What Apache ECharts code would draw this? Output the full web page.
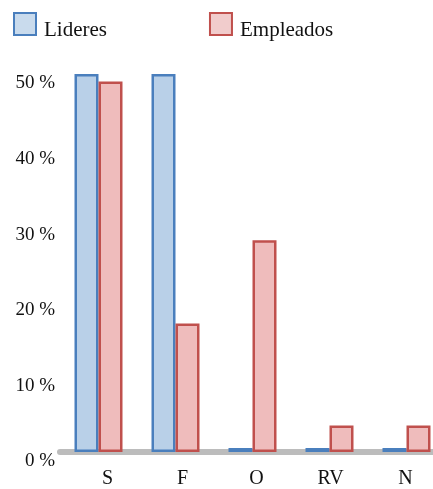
<!DOCTYPE html>
<html>
<head>
<meta charset="utf-8">
<script src="https://cdn.jsdelivr.net/npm/echarts@6/dist/echarts.min.js"></script>
<style>
html,body{margin:0;padding:0;background:#fff;overflow:hidden;}
#wrap{width:433px;height:489px;overflow:hidden;}
#chart{width:445px;height:489px;}
</style>
</head>
<body>
<div id="wrap"><div id="chart"></div></div>
<script>
const categories = ['S', 'F', 'O', 'RV', 'N'];
const lideres = [50, 50, 0, 0, 0];
const empleados = [49, 17, 28, 3.5, 3.5];
const yTicks = { min: 0, max: 50, interval: 10 };

const chart = echarts.init(document.getElementById('chart'), null, { renderer: 'canvas' });
const serif = '"Liberation Serif", "DejaVu Serif", serif';
const labelShift = [18, 14, 8, 2, -2];
const rich = {};
labelShift.forEach((p, i) => {
  rich['c' + i] = { fontFamily: serif, fontSize: 20, color: '#111', padding: p >= 0 ? [0, 0, 0, p] : [0, -p, 0, 0] };
});
chart.setOption({
  animation: false,
  backgroundColor: '#ffffff',
  legend: {
    left: 13, top: 12, padding: 0,
    itemWidth: 22, itemHeight: 22, itemGap: 102,
    icon: 'rect',
    formatter: '{t|{name}}',
    textStyle: {
      fontFamily: serif, fontSize: 21, color: '#111',
      rich: { t: { fontFamily: serif, fontSize: 21, color: '#111', padding: [12, 0, 0, 3] } }
    },
    data: [
      { name: 'Lideres', itemStyle: { color: '#c9dbed', borderColor: '#4a7fbd', borderWidth: 2 } },
      { name: 'Empleados', itemStyle: { color: '#f1cccc', borderColor: '#c0504d', borderWidth: 2 } }
    ]
  },
  grid: { left: 60, right: 0, top: 74, bottom: 37, containLabel: false },
  xAxis: {
    type: 'category',
    data: categories,
    axisLine: { show: true, lineStyle: { color: '#bcbcbc', width: 6 } },
    axisTick: { show: false },
    axisLabel: {
      margin: 17,
      formatter: (v, i) => '{c' + i + '|' + v + '}',
      rich: rich
    }
  },
  yAxis: {
    type: 'value',
    min: yTicks.min, max: yTicks.max, interval: yTicks.interval,
    splitLine: { show: false },
    axisLine: { show: false },
    axisTick: { show: false },
    axisLabel: { fontFamily: serif, fontSize: 19, color: '#111', margin: 5, formatter: '{value} %', verticalAlign: 'top' }
  },
  series: [
    {
      name: 'Lideres', type: 'bar', data: lideres,
      barWidth: 24, barGap: '0%', barMinHeight: 4,
      itemStyle: { color: '#b9d0e8', borderColor: '#4a7fbd', borderWidth: 2.5 }
    },
    {
      name: 'Empleados', type: 'bar', data: empleados,
      barWidth: 24, barMinHeight: 4,
      itemStyle: { color: '#efbcbc', borderColor: '#c0504d', borderWidth: 2.5 }
    }
  ]
});
</script>
</body>
</html>
